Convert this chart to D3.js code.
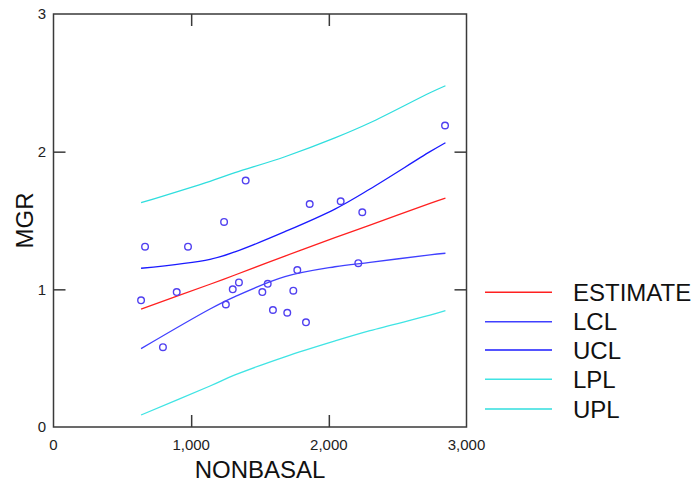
<!DOCTYPE html>
<html>
<head>
<meta charset="utf-8">
<script src="https://cdn.jsdelivr.net/npm/d3@7"></script>
<style>
  html, body { margin: 0; padding: 0; background: #fff; }
  svg { display: block; font-family: "Liberation Sans", Arial, sans-serif; }
</style>
</head>
<body>
<svg id="chart" width="700" height="486"></svg>
<script>
// observed points (NONBASAL, MGR)
const nonbasal = [636, 665, 795, 895, 977, 1239, 1252, 1302, 1347, 1396, 1517, 1556,
                  1594, 1698, 1742, 1771, 1834, 1861, 2086, 2214, 2243, 2844];
const mgr = [0.92, 1.31, 0.58, 0.98, 1.31, 1.49, 0.89, 1.00, 1.05, 1.79, 0.98, 1.04,
             0.85, 0.83, 0.99, 1.14, 0.76, 1.62, 1.64, 1.19, 1.56, 2.19];

// fitted line and bands, read at these x values
const bandX = [636, 1137, 1318, 1681, 2044, 2299, 2735, 2847];
const estimate = [0.857, 1.037, 1.104, 1.242, 1.375, 1.467, 1.625, 1.663];
const lcl = [0.569, 0.857, 0.947, 1.092, 1.164, 1.196, 1.250, 1.262];
const ucl = [1.153, 1.218, 1.272, 1.419, 1.583, 1.729, 2.000, 2.065];
const lpl = [0.087, 0.298, 0.378, 0.510, 0.625, 0.700, 0.812, 0.845];
const upl = [1.629, 1.785, 1.847, 1.963, 2.100, 2.210, 2.428, 2.479];

const seriesNames = ['ESTIMATE', 'LCL', 'UCL', 'LPL', 'UPL'];
const seriesValues = [estimate, lcl, ucl, lpl, upl];
const seriesColors = ['#ff2020', '#4040ff', '#1a1aff', '#40e4e4', '#30dede'];

const xTicks = [0, 1000, 2000, 3000];
const yTicks = [0, 1, 2, 3];

const margin = { left: 53.5, right: 466.5, top: 14, bottom: 427 };
const tickLen = 12;

const svg = d3.select('#chart');

const x = d3.scaleLinear().domain([0, 3000]).range([margin.left, margin.right]);
const y = d3.scaleLinear().domain([0, 3]).range([margin.bottom, margin.top]);

// bands and estimate
const line = d3.line()
  .x(d => x(d[0]))
  .y(d => y(d[1]))
  .curve(d3.curveCatmullRom.alpha(0.5));

seriesValues.forEach((vals, i) => {
  svg.append('path')
    .datum(bandX.map((bx, j) => [bx, vals[j]]))
    .attr('d', line)
    .attr('fill', 'none')
    .attr('stroke', seriesColors[i])
    .attr('stroke-width', 1.3);
});

// points
svg.append('g')
  .selectAll('circle')
  .data(nonbasal.map((v, i) => [v, mgr[i]]))
  .enter()
  .append('circle')
  .attr('cx', d => x(d[0]))
  .attr('cy', d => y(d[1]))
  .attr('r', 3.3)
  .attr('fill', 'none')
  .attr('stroke', '#5040f0')
  .attr('stroke-width', 1.4);

// frame
svg.append('rect')
  .attr('x', margin.left)
  .attr('y', margin.top)
  .attr('width', margin.right - margin.left)
  .attr('height', margin.bottom - margin.top)
  .attr('fill', 'none')
  .attr('stroke', '#3a3a3a')
  .attr('stroke-width', 1.5);

// axes with inward ticks (bottom/top, left/right)
const xAxisB = d3.axisTop(x).tickValues(xTicks.slice(1, -1)).tickSize(tickLen).tickFormat('');
const xAxisT = d3.axisBottom(x).tickValues(xTicks.slice(1, -1)).tickSize(tickLen).tickFormat('');
const yAxisL = d3.axisRight(y).tickValues(yTicks.slice(1, -1)).tickSize(tickLen).tickFormat('');
const yAxisR = d3.axisLeft(y).tickValues(yTicks.slice(1, -1)).tickSize(tickLen).tickFormat('');

[[xAxisB, `translate(0,${margin.bottom})`], [xAxisT, `translate(0,${margin.top})`],
 [yAxisL, `translate(${margin.left},0)`], [yAxisR, `translate(${margin.right},0)`]]
  .forEach(([ax, tr]) => {
    const g = svg.append('g').attr('transform', tr).call(ax);
    g.select('.domain').remove();
    g.selectAll('line').attr('stroke', '#3a3a3a').attr('stroke-width', 1.5);
  });

// tick labels
const fmt = d3.format(',');
svg.append('g')
  .selectAll('text')
  .data(xTicks)
  .enter()
  .append('text')
  .attr('x', d => x(d))
  .attr('y', 450)
  .attr('text-anchor', 'middle')
  .attr('font-size', 15)
  .attr('fill', '#222')
  .text(d => fmt(d));

svg.append('g')
  .selectAll('text')
  .data(yTicks)
  .enter()
  .append('text')
  .attr('x', 46)
  .attr('y', d => y(d))
  .attr('dy', '0.36em')
  .attr('text-anchor', 'end')
  .attr('font-size', 15)
  .attr('fill', '#222')
  .text(d => d);

// axis titles
svg.append('text')
  .attr('x', (margin.left + margin.right) / 2)
  .attr('y', 478)
  .attr('text-anchor', 'middle')
  .attr('font-size', 24)
  .attr('fill', '#111')
  .text('NONBASAL');

svg.append('text')
  .attr('transform', `translate(33,${(margin.top + margin.bottom) / 2}) rotate(-90)`)
  .attr('text-anchor', 'middle')
  .attr('font-size', 24)
  .attr('fill', '#111')
  .text('MGR');

// legend
const legend = svg.append('g');
const legendY = [292.3, 321.7, 350, 379.3, 409];
seriesNames.forEach((name, i) => {
  legend.append('line')
    .attr('x1', 485).attr('x2', 552)
    .attr('y1', legendY[i]).attr('y2', legendY[i])
    .attr('stroke', seriesColors[i])
    .attr('stroke-width', 1.5);
  legend.append('text')
    .attr('x', 573)
    .attr('y', legendY[i])
    .attr('dy', '0.36em')
    .attr('font-size', 24)
    .attr('fill', '#111')
    .text(name);
});
</script>
</body>
</html>
